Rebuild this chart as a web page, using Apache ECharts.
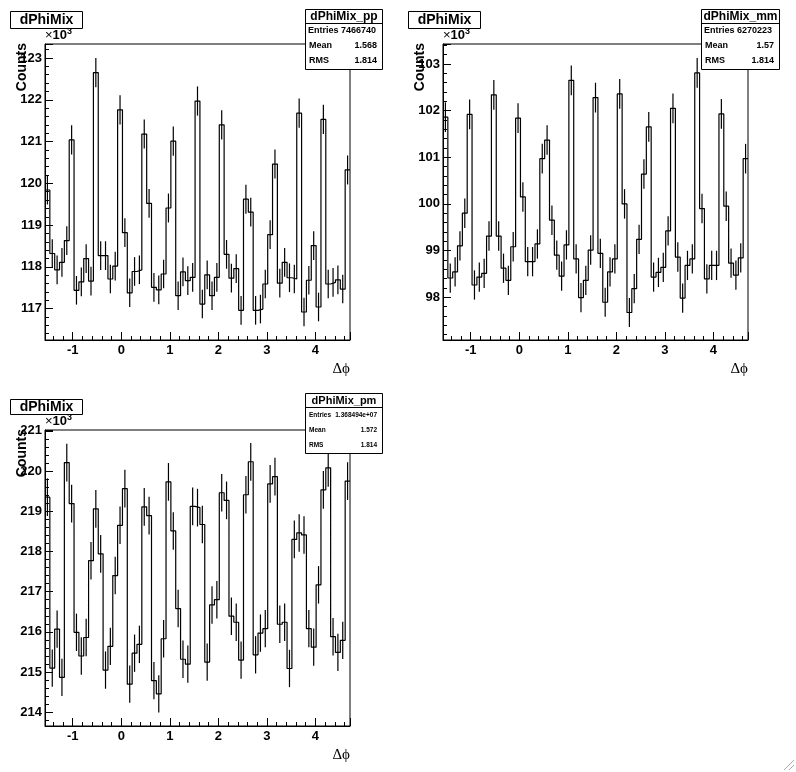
<!DOCTYPE html>
<html><head><meta charset="utf-8">
<script src="https://cdn.jsdelivr.net/npm/echarts@6/dist/echarts.min.js"></script>
<style>html,body{margin:0;padding:0;background:#fff}#c{width:796px;height:772px}</style>
</head><body><div id="c"></div>
<script>
// ---- data (counts in units of 10^3) ----
const nBins = 63;
const xMin = -Math.PI / 2, xMax = 3 * Math.PI / 2;
const ppValues = [119.84,118.32,117.93,118.11,118.63,121.04,117.44,117.64,118.20,117.66,
  122.65,118.27,118.27,117.71,118.02,121.76,118.82,117.38,117.89,117.93,
  121.18,119.52,117.51,117.45,117.83,119.41,121.01,117.31,117.88,117.67,
  117.75,121.97,117.11,117.81,117.31,117.75,121.40,118.30,117.73,117.96,
  116.96,119.62,119.31,116.96,116.99,117.59,118.77,120.46,117.61,118.11,
  117.74,117.71,121.68,116.92,117.68,118.51,117.04,121.53,117.59,117.63,
  117.69,117.47,120.32];
const mmValues = [101.86,98.41,98.54,99.10,99.80,101.92,98.26,98.43,98.51,99.31,
  102.34,99.31,98.62,98.36,99.08,101.84,100.15,98.76,98.76,99.14,
  100.97,101.37,99.65,98.90,98.45,99.12,102.65,98.82,97.99,98.36,
  99.01,102.28,98.94,97.89,98.54,98.82,102.36,100.00,97.67,98.18,
  99.24,100.64,101.65,98.43,98.53,98.64,99.42,102.05,98.86,97.98,
  98.68,98.82,102.81,99.90,98.39,98.68,98.68,101.93,99.95,98.73,
  98.47,98.84,100.97];
const pmValues = [219.35,215.10,216.07,214.87,220.21,219.19,215.99,215.40,215.86,217.77,
  219.06,217.94,215.05,215.64,217.40,218.65,219.56,214.70,215.47,215.69,
  219.11,218.89,214.79,214.46,215.83,219.73,218.51,216.58,215.32,215.20,
  219.12,219.09,218.67,215.25,216.67,216.80,219.46,219.27,216.39,216.24,
  215.30,219.41,220.23,215.43,215.97,216.08,219.68,219.86,216.19,216.24,
  215.09,218.30,218.46,218.41,216.08,215.62,217.17,219.53,220.08,215.88,
  215.49,215.79,219.75];
const panelTitle = 'dPhiMix';
const histNames = ['dPhiMix_pp', 'dPhiMix_mm', 'dPhiMix_pm'];
const entries = ['7466740', '6270223', '1.368494e+07'];
const means = ['1.568', '1.57', '1.572'];
const rmsVals = ['1.814', '1.814', '1.814'];
const yRanges = [[116.25, 123.335], [97.08, 103.43], [213.66, 221.02]];
const xTitle = 'Δϕ';
const yTitle = 'Counts';

// ---- layout ----
const FONT = 'Liberation Sans';
const grids = [
  {left: 45, top: 44, width: 305, height: 296},
  {left: 443, top: 44, width: 305, height: 296},
  {left: 45, top: 430, width: 305, height: 296}
];
const series = [];
const xAxes = [], yAxes = [];
const allValues = [ppValues, mmValues, pmValues];
const binW = (xMax - xMin) / nBins;
const intFmt = v => Math.abs(v - Math.round(v)) < 1e-6 ? String(Math.round(v)) : '';

allValues.forEach((vals, g) => {
  // major + minor x axes
  xAxes.push({gridIndex: g, type: 'value', min: xMin, max: xMax, minInterval: 1, maxInterval: 1,
    position: 'bottom',
    axisLine: {show: true, onZero: false, lineStyle: {color: '#000', width: 1}},
    axisTick: {show: true, inside: true, length: 8, lineStyle: {color: '#000'}},
    axisLabel: {show: true, formatter: intFmt, color: '#000', fontFamily: FONT, fontWeight: 'bold', fontSize: 13, margin: 4},
    splitLine: {show: false}});
  xAxes.push({gridIndex: g, type: 'value', min: xMin, max: xMax, minInterval: 0.2, maxInterval: 0.2,
    position: 'bottom',
    axisLine: {show: false, onZero: false},
    axisTick: {show: true, inside: true, length: 4, lineStyle: {color: '#000'}},
    axisLabel: {show: false}, splitLine: {show: false}});
  const [ymin, ymax] = yRanges[g];
  yAxes.push({gridIndex: g, type: 'value', min: ymin, max: ymax, minInterval: 1, maxInterval: 1,
    position: 'left',
    axisLine: {show: true, onZero: false, lineStyle: {color: '#000', width: 1}},
    axisTick: {show: true, inside: true, length: 8, lineStyle: {color: '#000'}},
    axisLabel: {show: true, formatter: intFmt, color: '#000', fontFamily: FONT, fontWeight: 'bold', fontSize: 13, margin: 3},
    splitLine: {show: false}});
  yAxes.push({gridIndex: g, type: 'value', min: ymin, max: ymax, minInterval: 0.2, maxInterval: 0.2,
    position: 'left',
    axisLine: {show: false, onZero: false},
    axisTick: {show: true, inside: true, length: 4, lineStyle: {color: '#000'}},
    axisLabel: {show: false}, splitLine: {show: false}});

  const stepPts = [];
  const errPts = [];
  vals.forEach((v, i) => {
    const x0 = xMin + i * binW, x1 = x0 + binW;
    stepPts.push([x0, v], [x1, v]);
    const e = Math.sqrt(v * 1000) / 1000;
    errPts.push([(x0 + x1) / 2, v - e, v + e]);
  });
  series.push({type: 'line', xAxisIndex: 2 * g, yAxisIndex: 2 * g, data: stepPts,
    showSymbol: false, symbol: 'none', silent: true, clip: true,
    lineStyle: {color: '#000', width: 1.2}});
  series.push({type: 'custom', xAxisIndex: 2 * g, yAxisIndex: 2 * g, data: errPts, silent: true, clip: true,
    encode: {x: 0, y: [1, 2]},
    renderItem: (params, api) => {
      const p1 = api.coord([api.value(0), api.value(1)]);
      const p2 = api.coord([api.value(0), api.value(2)]);
      return {type: 'line', shape: {x1: p1[0], y1: p1[1], x2: p2[0], y2: p2[1]},
        style: {stroke: '#000', lineWidth: 1.2}};
    }});
});

// ---- annotations (boxes, titles) ----
const graphic = [];
function box(x, y, w, h) {
  graphic.push({type: 'rect', shape: {x: x + 0.5, y: y + 0.5, width: w, height: h},
    style: {fill: '#fff', stroke: '#000', lineWidth: 1}, z: 100});
}
function txt(x, y, s, size, align, weight, extra) {
  graphic.push(Object.assign({type: 'text', x: x, y: y, z: 101,
    style: {text: s, fontFamily: FONT, fontSize: size, fontWeight: weight || 'bold', fill: '#000',
      align: align || 'left', verticalAlign: 'middle'}}, extra || {}));
}
const titlePos = [[10, 11], [408, 11], [10, 399]];
const titleH = [17, 17, 15];
const statPos = [[305, 9], [701, 9], [305, 393]];
const statW = [77, 78, 77];
grids.forEach((gr, g) => {
  // panel title
  const [tx, ty] = titlePos[g];
  box(tx, ty, 72, titleH[g]);
  txt(tx + 36.5, ty + titleH[g] / 2 + 1, panelTitle, 14, 'center');
  // stats box
  const [sx, sy] = statPos[g];
  const sw = statW[g];
  box(sx, sy, sw, 60);
  graphic.push({type: 'line', shape: {x1: sx, y1: sy + 14.5, x2: sx + sw, y2: sy + 14.5},
    style: {stroke: '#000', lineWidth: 1}, z: 101});
  const small = g === 2;
  txt(sx + sw / 2 + 0.5, sy + 7.5, histNames[g], small ? 11 : 12, 'center');
  const rs = small ? 6.5 : 9;
  const rowsY = small ? [22, 37, 52] : [21.5, 36.5, 51.5];
  if (small) {
    txt(sx + 4, sy + rowsY[0], 'Entries', rs, 'left');
    txt(sx + sw - 5, sy + rowsY[0], entries[g], rs, 'right');
  } else {
    txt(sx + 3, sy + rowsY[0], 'Entries ' + entries[g], rs, 'left');
  }
  txt(sx + 4, sy + rowsY[1], 'Mean', rs, 'left');
  txt(sx + sw - 5, sy + rowsY[1], means[g], rs, 'right');
  txt(sx + 4, sy + rowsY[2], 'RMS', rs, 'left');
  txt(sx + sw - 5, sy + rowsY[2], rmsVals[g], rs, 'right');
  // x10^3
  graphic.push({type: 'text', x: gr.left, y: gr.top - 2, z: 101,
    style: {text: '{a|×}{b|10}{c|3}', verticalAlign: 'bottom', align: 'left',
      rich: {a: {fontFamily: FONT, fontSize: 13, fill: '#000', verticalAlign: 'bottom'},
             b: {fontFamily: FONT, fontSize: 13, fontWeight: 'bold', fill: '#000', verticalAlign: 'bottom'},
             c: {fontFamily: FONT, fontSize: 9, fontWeight: 'bold', fill: '#000', verticalAlign: 'top', padding: [0, 0, 6, 0]}}}});
  // y title
  graphic.push({type: 'text', x: gr.left - 23, y: gr.top - 1, rotation: Math.PI / 2, z: 102,
    style: {text: yTitle, fontFamily: FONT, fontSize: 14, fontWeight: 'bold', fill: '#000',
      align: 'right', verticalAlign: 'middle'}});
  // x title
  graphic.push({type: 'text', x: gr.left + gr.width, y: gr.top + gr.height + 29, z: 101,
    style: {text: xTitle, fontFamily: 'Liberation Serif', fontSize: 15, fill: '#000',
      align: 'right', verticalAlign: 'middle'}});
});
// canvas resize corner glyph
graphic.push({type: 'line', shape: {x1: 784, y1: 770, x2: 794, y2: 760}, style: {stroke: '#aaa', lineWidth: 1}});
graphic.push({type: 'line', shape: {x1: 789, y1: 770, x2: 794, y2: 765}, style: {stroke: '#aaa', lineWidth: 1}});

const chart = echarts.init(document.getElementById('c'), null, {renderer: 'canvas'});
chart.setOption({
  animation: false,
  backgroundColor: '#fff',
  grid: grids.map(g => Object.assign({show: true, borderColor: '#000', borderWidth: 1, backgroundColor: 'transparent', containLabel: false}, g)),
  xAxis: xAxes,
  yAxis: yAxes,
  series: series,
  graphic: graphic
});
</script></body></html>
